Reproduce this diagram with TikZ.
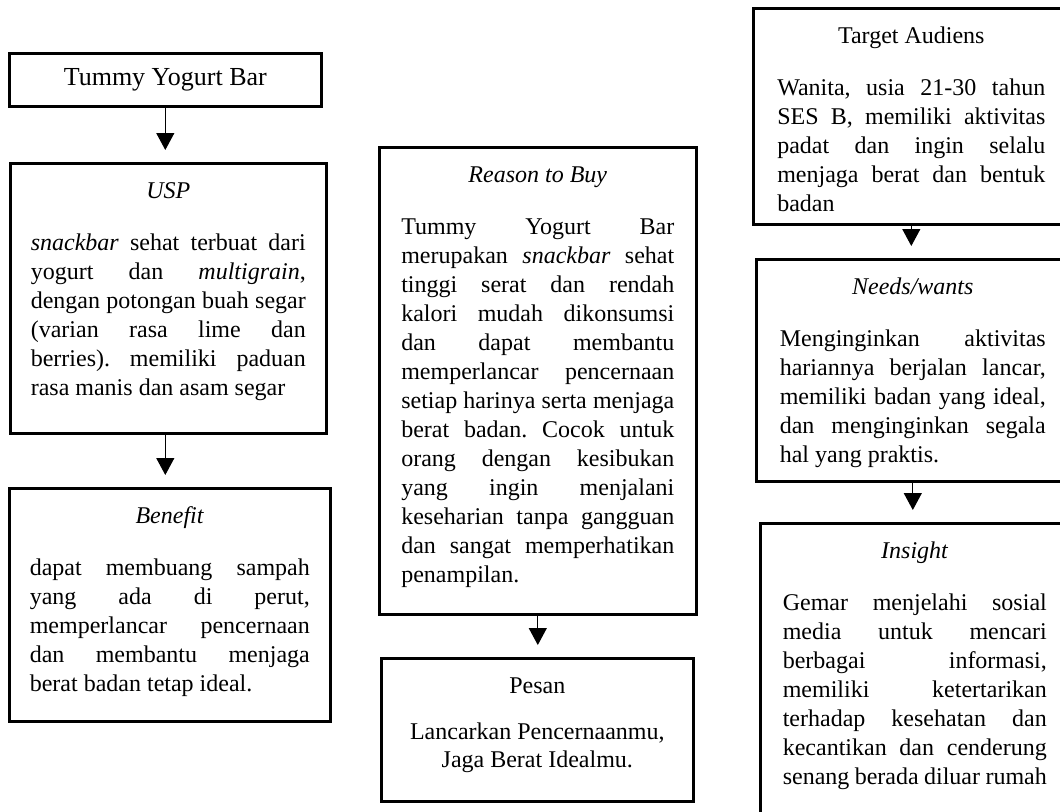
\documentclass[tikz,border=0pt]{standalone}
\usepackage{fontspec}
\setmainfont{Liberation Serif}
\usetikzlibrary{arrows.meta}
\hyphenpenalty=10000
\exhyphenpenalty=10000
\frenchspacing

% tinggi, lebar teks, judul, isi
\newcommand{\isikotak}[4]{\parbox[c][#1][t]{#2}{\fontsize{12}{14.5}\selectfont
\hyphenpenalty=10000 \vspace*{7.5pt}{\centering\strut #3\par}\vspace{11.5pt}#4}}

\begin{document}
\begin{tikzpicture}[x=1pt,y=-1pt,
  kotak/.style={draw,line width=1.3pt,anchor=north west,inner sep=0pt},
  panah/.style={-{Triangle[width=9pt,length=8.5pt]},line width=0.6pt,shorten >=6pt}]
\path[use as bounding box,clip] (0,0) rectangle (530,405.5);

\node[kotak,minimum width=156pt,minimum height=26.5pt,font={\fontsize{13}{15}\selectfont}] (judul) at (4,26) {Tummy Yogurt Bar};
\node[kotak,minimum width=158pt] (usp) at (4.5,81) {\isikotak{135pt}{137.5pt}{\textit{USP}}{%
\textit{snackbar} sehat terbuat dari\linebreak
yogurt dan \textit{multigrain},\linebreak
dengan potongan buah segar\linebreak
(varian rasa lime dan\linebreak
berries). memiliki paduan\linebreak
rasa manis dan asam segar}};
\node[kotak,minimum width=160.5pt] (benefit) at (4,243.5) {\isikotak{116.5pt}{140pt}{\textit{Benefit}}{%
dapat membuang sampah\linebreak
yang ada di perut,\linebreak
memperlancar pencernaan\linebreak
dan membantu menjaga\linebreak
berat badan tetap ideal.}};

\node[kotak,minimum width=158.5pt] (rtb) at (189,73) {\isikotak{233.5pt}{136.5pt}{\textit{Reason to Buy}}{%
Tummy Yogurt Bar\linebreak
merupakan \textit{snackbar} sehat\linebreak
tinggi serat dan rendah\linebreak
kalori mudah dikonsumsi\linebreak
dan dapat membantu\linebreak
memperlancar pencernaan\linebreak
setiap harinya serta menjaga\linebreak
berat badan. Cocok untuk\linebreak
orang dengan kesibukan\linebreak
yang ingin menjalani\linebreak
keseharian tanpa gangguan\linebreak
dan sangat memperhatikan\linebreak
penampilan.}};
\node[kotak,minimum width=156pt] (pesan) at (190,328.5) {\isikotak{71.5pt}{136pt}{Pesan}{%
\vspace*{-3pt}{\centering Lancarkan Pencernaanmu,\\[-0.5pt] Jaga Berat Idealmu.\par}}};

% kolom kanan, terpotong di tepi
\node[kotak,minimum width=158pt] (target) at (376,3.5) {\isikotak{108pt}{134pt}{Target Audiens}{%
Wanita, usia 21-30 tahun\linebreak
SES B, memiliki aktivitas\linebreak
padat dan ingin selalu\linebreak
menjaga berat dan bentuk\linebreak
badan}};
\node[kotak,minimum width=156.5pt] (needs) at (377.5,129) {\isikotak{111pt}{133pt}{\textit{Needs/wants}}{%
Menginginkan aktivitas\linebreak
hariannya berjalan lancar,\linebreak
memiliki badan yang ideal,\linebreak
dan menginginkan segala\linebreak
hal yang praktis.}};
\node[kotak,minimum width=154.5pt] (insight) at (379.5,261) {\isikotak{160pt}{132pt}{\textit{Insight}}{%
Gemar menjelahi sosial\linebreak
media untuk mencari\linebreak
berbagai informasi,\linebreak
memiliki ketertarikan\linebreak
terhadap kesehatan dan\linebreak
kecantikan dan cenderung\linebreak
senang berada diluar rumah}};

\draw[panah] (judul) -- (judul |- usp.north);
\draw[panah] (usp.south -| judul) -- (judul |- benefit.north);
\draw[panah] (rtb) -- (rtb |- pesan.north);
\draw[panah] (target) -- (target |- needs.north);
\draw[panah] (needs) -- (needs |- insight.north);
\end{tikzpicture}
\end{document}
